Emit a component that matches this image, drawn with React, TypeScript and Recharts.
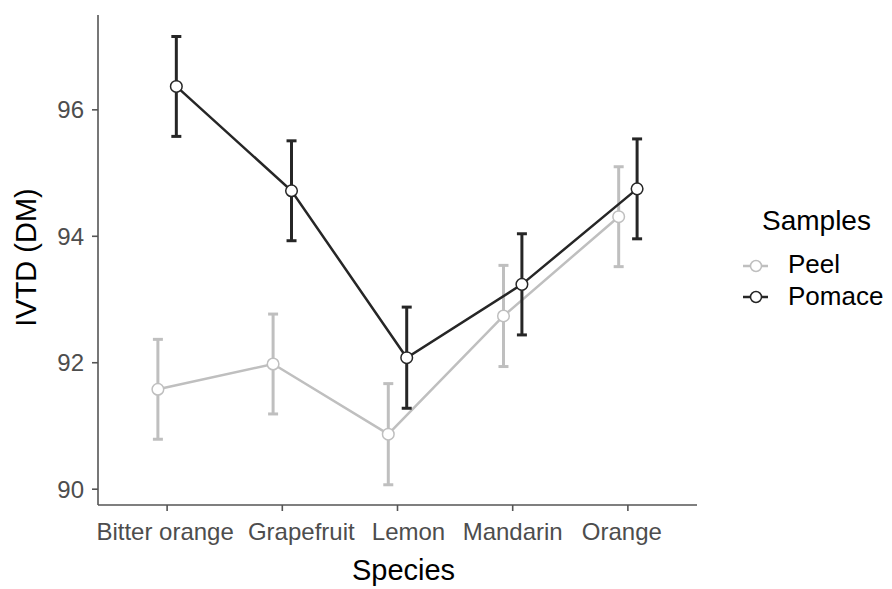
import React from 'react';
import { LineChart, Line, XAxis, YAxis, ErrorBar, Legend } from 'recharts';

const species = ['Bitter orange', 'Grapefruit', 'Lemon', 'Mandarin', 'Orange'];
const peelMean = [91.58, 91.98, 90.87, 92.74, 94.31];
const peelErr = [0.79, 0.79, 0.8, 0.8, 0.79];
const pomaceMean = [96.37, 94.72, 92.08, 93.24, 94.75];
const pomaceErr = [0.79, 0.79, 0.8, 0.8, 0.79];
const yTicks = [90, 92, 94, 96];

const DODGE = 0.08;
const peelData = species.map((s, i) => ({ x: i + 1 - DODGE, y: peelMean[i], err: peelErr[i] }));
const pomaceData = species.map((s, i) => ({ x: i + 1 + DODGE, y: pomaceMean[i], err: pomaceErr[i] }));

const PEEL = '#bfbfbf';
const POMACE = '#262626';
const AXIS = '#555555';
const TICK_TEXT = '#4d4d4d';
const FONT = '"Liberation Sans", Arial, sans-serif';

const labelShift = [-2, 19, 11, 0, -6];

const XTick = (props: any) => {
  const { x, y, payload, index } = props;
  const i = Math.round(payload.value) - 1;
  return (
    <text
      x={x + (labelShift[i] ?? 0)}
      y={y}
      dy="0.71em"
      textAnchor="middle"
      fill={TICK_TEXT}
      fontSize={24}
      fontFamily={FONT}
    >
      {species[i]}
    </text>
  );
};

const LegendContent = () => (
  <svg width={152} height={115} style={{ display: 'block' }}>
    <text x={22} y={30} fontSize={28} fontFamily={FONT} fill="#000">Samples</text>
    <line x1={3} x2={28} y1={66} y2={66} stroke={PEEL} strokeWidth={2.5} />
    <circle cx={16} cy={66} r={5.5} fill="#fff" stroke={PEEL} strokeWidth={1.5} />
    <text x={48} y={73} fontSize={26} fontFamily={FONT} fill="#000">Peel</text>
    <line x1={3} x2={28} y1={97} y2={97} stroke={POMACE} strokeWidth={2.5} />
    <circle cx={16} cy={97} r={5.5} fill="#fff" stroke={POMACE} strokeWidth={1.5} />
    <text x={48} y={105} fontSize={26} fontFamily={FONT} fill="#000">Pomace</text>
  </svg>
);

export default function App() {
  return (
    <div style={{ position: 'absolute', left: 0, top: 0 }}>
      <LineChart
        width={892}
        height={589}
        margin={{ top: 15, right: 195, bottom: 0, left: 0 }}
        style={{ fontFamily: FONT, background: '#fff' }}
      >
        <XAxis
          type="number"
          dataKey="x"
          domain={[0.4, 5.6]}
          ticks={[1, 2, 3, 4, 5]}
          interval={0}
          height={84}
          allowDataOverflow
          axisLine={{ stroke: AXIS, strokeWidth: 1.6 }}
          tickLine={{ stroke: AXIS, strokeWidth: 1.6 }}
          tickSize={6}
          tickMargin={12}
          tick={<XTick />}
          label={{
            content: (p: any) => {
              const vb = p.viewBox || { x: 98, y: 505, width: 599 };
              return (
                <text x={vb.x + vb.width / 2 + 6} y={580} textAnchor="middle" fontSize={29} fontFamily={FONT} fill="#000">
                  Species
                </text>
              );
            },
          }}
        />
        <YAxis
          type="number"
          domain={[89.75, 97.5]}
          ticks={yTicks}
          interval={0}
          width={98}
          allowDataOverflow
          axisLine={{ stroke: AXIS, strokeWidth: 1.6 }}
          tickLine={{ stroke: AXIS, strokeWidth: 1.6 }}
          tickSize={6}
          tickMargin={8}
          tick={{ fill: TICK_TEXT, fontSize: 24, fontFamily: FONT }}
          label={{
            content: (p: any) => {
              const vb = p.viewBox || { x: 0, y: 15, height: 490 };
              const cy = vb.y + vb.height / 2 - 2.5;
              return (
                <text
                  x={36}
                  y={cy}
                  transform={`rotate(-90 36 ${cy})`}
                  textAnchor="middle"
                  fontSize={29}
                  fontFamily={FONT}
                  fill="#000"
                >
                  IVTD (DM)
                </text>
              );
            },
          }}
        />
        <Legend
          layout="vertical"
          align="center"
          verticalAlign="middle"
          wrapperStyle={{ position: 'absolute', left: 740, top: 200, width: 152, height: 115 }}
          content={<LegendContent />}
        />
        <Line
          data={peelData}
          dataKey="y"
          name="Peel"
          stroke={PEEL}
          strokeWidth={2.5}
          dot={{ r: 5.8, fill: '#fff', stroke: PEEL, strokeWidth: 1.5 }}
          activeDot={false}
          isAnimationActive={false}
        >
          <ErrorBar dataKey="err" direction="y" width={5} stroke={PEEL} strokeWidth={3} isAnimationActive={false} />
        </Line>
        <Line
          data={pomaceData}
          dataKey="y"
          name="Pomace"
          stroke={POMACE}
          strokeWidth={2.5}
          dot={{ r: 5.8, fill: '#fff', stroke: POMACE, strokeWidth: 1.5 }}
          activeDot={false}
          isAnimationActive={false}
        >
          <ErrorBar dataKey="err" direction="y" width={5} stroke={POMACE} strokeWidth={3} isAnimationActive={false} />
        </Line>
      </LineChart>
    </div>
  );
}
